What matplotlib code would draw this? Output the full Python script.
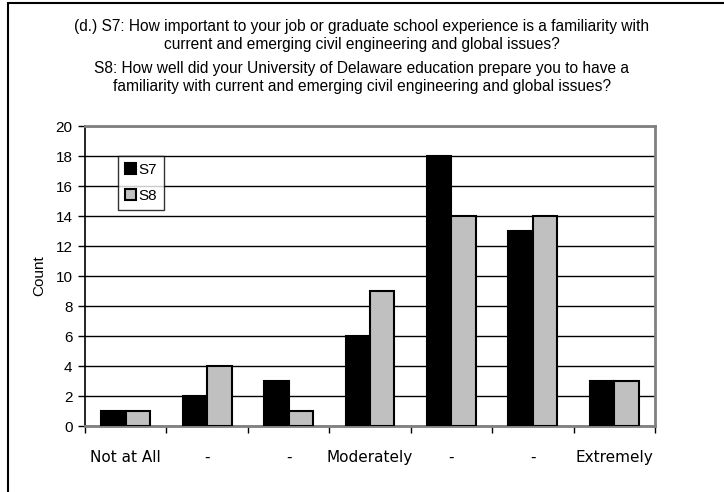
"""
    survey question (d.): importance of vs. preparation for current civil engineering issues
"""

import numpy as np
import matplotlib
matplotlib.use("Agg")
import matplotlib.pyplot as plt
from matplotlib.patches import Rectangle

categories = ["Not at All", "-", "-", "Moderately", "-", "-", "Extremely"]
s7_counts = [1, 2, 3, 6, 18, 13, 3]
s8_counts = [1, 4, 1, 9, 14, 14, 3]
series_names = ["S7", "S8"]

title_lines = ["(d.) S7: How important to your job or graduate school experience is a familiarity with",
               "current and emerging civil engineering and global issues?",
               "S8: How well did your University of Delaware education prepare you to have a",
               "familiarity with current and emerging civil engineering and global issues?"]
title_rows = [26, 44, 68, 86]  # pixel rows from the top

W, H = 724, 492
plt.rcParams["font.family"] = ["Liberation Sans", "DejaVu Sans"]

fig = plt.figure(figsize=(W / 100, H / 100), dpi=100)

# frame round the whole chart, cut off at the right and bottom
fig.patches.append(Rectangle((8 / W, -0.1), 1.2, 1.1 - 2.5 / H,
                             transform=fig.transFigure, fill=False,
                             edgecolor="black", linewidth=1.5))

for line, row in zip(title_lines, title_rows):
    fig.text(0.5, 1 - row / H, line, ha="center", va="center", fontsize=11.2)

ax = fig.add_axes([85 / W, 1 - 426 / H, 570 / W, 300 / H])

x = np.arange(len(categories))
width = 0.3
ax.bar(x - width / 2, s7_counts, width, color="black", edgecolor="black",
       linewidth=1.5, label=series_names[0], zorder=3)
ax.bar(x + width / 2, s8_counts, width, color="#c0c0c0", edgecolor="black",
       linewidth=1.5, label=series_names[1], zorder=3)

ax.set_xlim(-0.5, len(categories) - 0.5)
ax.set_ylim(0, 20)
ax.set_yticks(range(0, 21, 2))
ax.yaxis.grid(True, color="black", linewidth=1.0, zorder=0)
ax.set_axisbelow(True)

ax.set_xticks(x)
ax.set_xticklabels(categories, family="DejaVu Sans", fontsize=11)
ax.set_xticks(np.arange(-0.5, len(categories)), minor=True)
ax.tick_params(axis="x", which="major", length=0, pad=17)
ax.tick_params(axis="x", which="minor", length=5, width=1, color="black")
ax.tick_params(axis="y", length=5, width=1, labelsize=11, pad=4)

for side in ["top", "right", "bottom"]:
    ax.spines[side].set_color("#808080")
    ax.spines[side].set_linewidth(2)
ax.spines["left"].set_color("black")
ax.spines["left"].set_linewidth(1.2)

ax.set_ylabel("Count", fontsize=11, labelpad=7)

leg = ax.legend(loc="upper left", bbox_to_anchor=(33 / 570, 270 / 300),
                fontsize=11, frameon=True, fancybox=False, edgecolor="black",
                handlelength=0.75, handleheight=0.75, handletextpad=0.15,
                borderpad=0.45, labelspacing=0.8, borderaxespad=0)
leg.get_frame().set_linewidth(1.0)

plt.savefig("out.png", dpi=100)
plt.close()
